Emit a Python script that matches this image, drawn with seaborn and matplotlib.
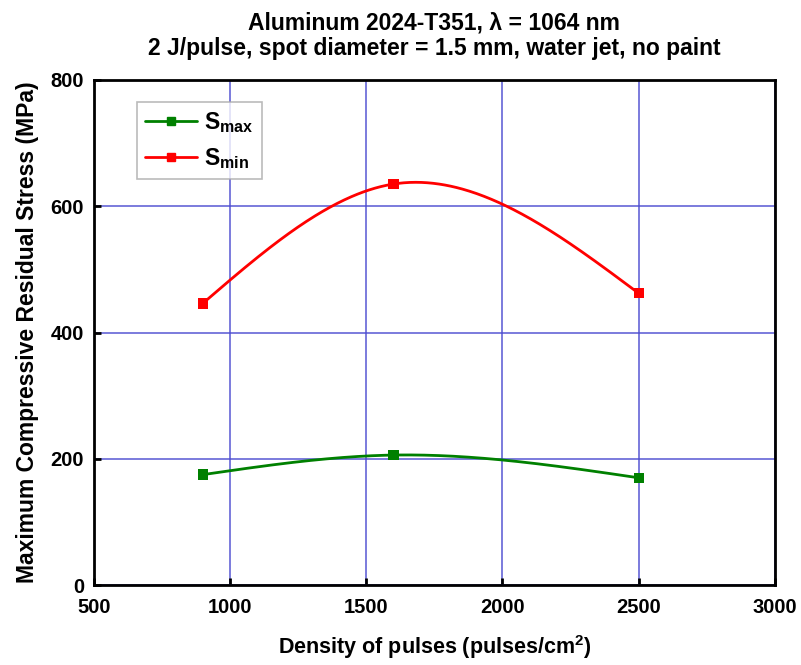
import numpy as np
import pandas as pd
import matplotlib
matplotlib.use("Agg")
import matplotlib.pyplot as plt
from matplotlib.lines import Line2D
import seaborn as sns

# Data
density = [900, 1600, 2500]
s_max = [175, 206, 170]
s_min = [446, 635, 462]
series_names = ["S$_{\\mathrm{max}}$", "S$_{\\mathrm{min}}$"]
series_colors = ["#008000", "#ff0000"]
x_ticks = [500, 1000, 1500, 2000, 2500, 3000]
y_ticks = [0, 200, 400, 600, 800]


def natural_spline(xs, ys, xq):
    xs = np.asarray(xs, float); ys = np.asarray(ys, float)
    n = len(xs)
    h = np.diff(xs)
    A = np.zeros((n, n)); r = np.zeros(n)
    A[0, 0] = 1; A[-1, -1] = 1
    for i in range(1, n - 1):
        A[i, i - 1] = h[i - 1]; A[i, i] = 2 * (h[i - 1] + h[i]); A[i, i + 1] = h[i]
        r[i] = 6 * ((ys[i + 1] - ys[i]) / h[i] - (ys[i] - ys[i - 1]) / h[i - 1])
    M = np.linalg.solve(A, r)
    out = []
    for x in xq:
        i = min(max(np.searchsorted(xs, x) - 1, 0), n - 2)
        x0, x1 = xs[i], xs[i + 1]; hh = h[i]
        v = (M[i] * (x1 - x) ** 3 / (6 * hh) + M[i + 1] * (x - x0) ** 3 / (6 * hh)
             + (ys[i] / hh - M[i] * hh / 6) * (x1 - x) + (ys[i + 1] / hh - M[i + 1] * hh / 6) * (x - x0))
        out.append(v)
    return np.array(out)


xq = np.linspace(density[0], density[-1], 300)
curves = []
points = []
for name, vals in zip(series_names, [s_max, s_min]):
    curves.append(pd.DataFrame({"x": xq, "y": natural_spline(density, vals, xq), "s": name}))
    points.append(pd.DataFrame({"x": density, "y": vals, "s": name}))
curve_df = pd.concat(curves, ignore_index=True)
pt_df = pd.concat(points, ignore_index=True)

sns.set_style("white")
plt.rcParams["font.family"] = ["Liberation Sans", "DejaVu Sans"]
plt.rcParams["font.weight"] = "bold"
plt.rcParams["text.color"] = "black"
plt.rcParams["axes.labelcolor"] = "black"
plt.rcParams["xtick.color"] = "black"
plt.rcParams["ytick.color"] = "black"
plt.rcParams["mathtext.fontset"] = "custom"
plt.rcParams["mathtext.rm"] = "Liberation Sans:bold"
plt.rcParams["mathtext.it"] = "Liberation Sans:bold"
plt.rcParams["mathtext.bf"] = "Liberation Sans:bold"

fig = plt.figure(figsize=(8.01, 6.65), dpi=100)
ax = fig.add_axes([0.117, 0.120, 0.8505, 0.760])

palette = dict(zip(series_names, series_colors))
sns.lineplot(data=curve_df, x="x", y="y", hue="s", palette=palette, ax=ax,
             linewidth=2.0, legend=False, sort=False, estimator=None)
sns.scatterplot(data=pt_df, x="x", y="y", hue="s", palette=palette, ax=ax,
                marker="s", s=55, linewidth=0, legend=False, zorder=5)

ax.set_xlim(500, 3000)
ax.set_ylim(0, 800)
ax.set_xticks(x_ticks)
ax.set_yticks(y_ticks)
ax.set_xticklabels([str(t) for t in x_ticks], fontsize=14.5, fontweight="bold")
ax.set_yticklabels([str(t) for t in y_ticks], fontsize=14.5, fontweight="bold")
ax.grid(True, color="#4a4ad0", linewidth=1.2, alpha=0.85)
ax.set_axisbelow(True)
for sp in ax.spines.values():
    sp.set_color("black"); sp.set_linewidth(2.0); sp.set_visible(True)
ax.tick_params(axis="both", direction="in", length=5, width=2, color="black",
               bottom=True, left=True, top=False, right=False)
ax.tick_params(axis="x", pad=9)
ax.tick_params(axis="y", pad=7)

ax.set_xlabel("Density of pulses (pulses/cm$^2$)", fontsize=15.5, fontweight="bold", labelpad=12)
ax.set_ylabel("Maximum Compressive Residual Stress (MPa)", fontsize=16.5, fontweight="bold", labelpad=8)
ax.set_title("Aluminum 2024-T351, \u03bb = 1064 nm\n2 J/pulse, spot diameter = 1.5 mm, water jet, no paint",
             fontsize=16.5, fontweight="bold", pad=18, linespacing=1.15)

handles = [Line2D([0], [0], color=c, linewidth=2.0, marker="s", markersize=6) for c in series_colors]
leg = ax.legend(handles, series_names, loc="upper left", bbox_to_anchor=(0.063, 0.956),
                borderaxespad=0, fontsize=16.5, frameon=True, fancybox=False, edgecolor="#aaaaaa",
                handlelength=2.3, handletextpad=0.3, borderpad=0.35, labelspacing=0.5)
leg.get_frame().set_linewidth(1.2)

fig.savefig("out.png", dpi=100)
